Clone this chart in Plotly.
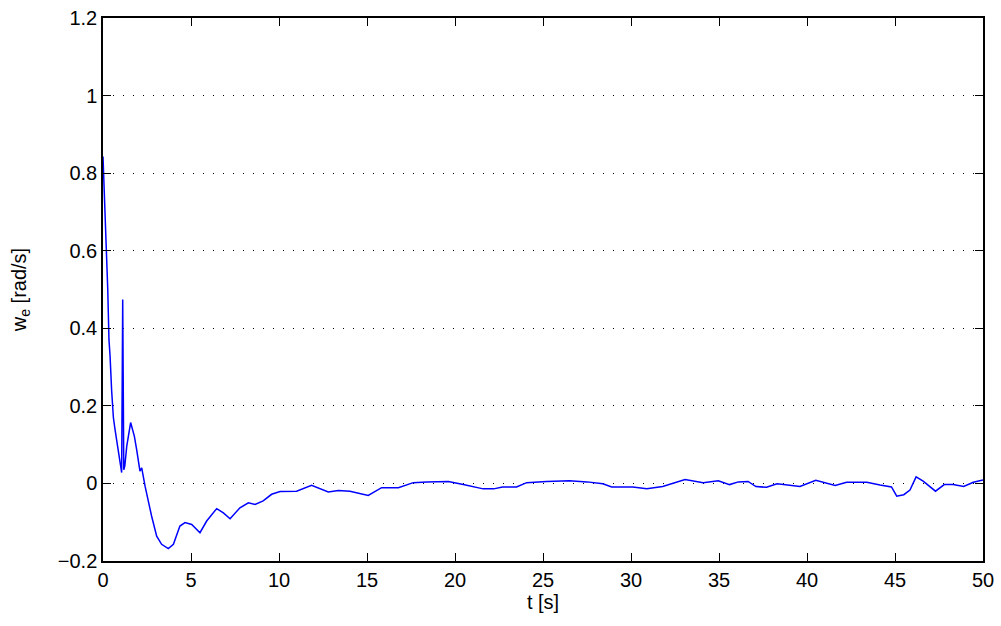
import plotly.graph_objects as go

t = [0.0, 0.11, 0.21, 0.27, 0.34, 0.40, 0.49, 0.59, 0.68, 0.87, 1.06, 1.12, 1.18, 1.24,
     1.35, 1.57, 1.78, 1.91, 2.10, 2.20, 2.39, 2.76, 3.05, 3.33, 3.71, 4.00, 4.37, 4.66,
     5.04, 5.51, 5.89, 6.46, 6.84, 7.22, 7.78, 8.26, 8.64, 9.10, 9.58, 10.06, 11.0,
     11.85, 12.8, 13.37, 14.03, 15.07, 15.83, 16.78, 17.63, 18.39, 19.62, 20.47, 21.6,
     22.2, 22.7, 23.5, 24.07, 25.2, 26.5, 27.5, 28.4, 28.9, 29.7, 30.1, 30.9, 31.8,
     33.07, 34.1, 34.96, 35.6, 36.1, 36.65, 37.1, 37.7, 38.3, 38.8, 39.6, 40.5, 41.6,
     42.25, 43.4, 44.15, 44.8, 45.1, 45.5, 45.85, 46.2, 46.6, 47.3, 47.8, 48.3, 48.9,
     49.45, 50.0]
w_e = [0.843, 0.715, 0.60, 0.50, 0.37, 0.33, 0.24, 0.17, 0.14, 0.08, 0.028, 0.474, 0.035,
       0.045, 0.096, 0.157, 0.122, 0.088, 0.032, 0.04, -0.007, -0.084, -0.136, -0.157,
       -0.168, -0.157, -0.11, -0.101, -0.106, -0.127, -0.097, -0.065, -0.076, -0.091,
       -0.063, -0.05, -0.054, -0.045, -0.028, -0.021, -0.02, -0.005, -0.022, -0.018,
       -0.02, -0.031, -0.011, -0.011, 0.002, 0.004, 0.005, -0.003, -0.014, -0.014,
       -0.009, -0.009, 0.002, 0.005, 0.007, 0.004, -0.001, -0.009, -0.008, -0.009,
       -0.014, -0.008, 0.010, 0.002, 0.007, -0.003, 0.004, 0.005, -0.008, -0.01,
       -0.001, -0.003, -0.008, 0.008, -0.005, 0.003, 0.003, -0.004, -0.009, -0.033,
       -0.029, -0.017, 0.017, 0.006, -0.02, -0.003, -0.003, -0.008, 0.003, 0.009]

x_ticks = [0, 5, 10, 15, 20, 25, 30, 35, 40, 45, 50]
y_ticks = [-0.2, 0, 0.2, 0.4, 0.6, 0.8, 1.0, 1.2]
y_tick_labels = ["\u22120.2", "0", "0.2", "0.4", "0.6", "0.8", "1", "1.2"]

fig = go.Figure()
fig.add_trace(go.Scatter(x=t, y=w_e, mode="lines",
                         line=dict(color="#0000ff", width=1.5), showlegend=False))

font = dict(family="Liberation Sans, Arial, sans-serif", size=20, color="black")

fig.update_layout(
    width=1001, height=626,
    margin=dict(l=103, r=18, t=18, b=65, autoexpand=False),
    paper_bgcolor="white", plot_bgcolor="white",
    font=font,
)
fig.update_xaxes(
    range=[0, 50], tickvals=x_ticks, ticks="inside", ticklen=8, tickcolor="black",
    showline=True, linecolor="black", linewidth=1.5, mirror="ticks",
    showgrid=False, zeroline=False, automargin=False,
    title=dict(text="t [s]", standoff=4, font=font), tickfont=font,
)
fig.update_yaxes(
    range=[-0.2, 1.2], tickvals=y_ticks, ticktext=y_tick_labels, ticks="inside",
    ticklen=8, tickcolor="black",
    showline=True, linecolor="black", linewidth=1.5, mirror="ticks",
    showgrid=True, gridcolor="black", gridwidth=1, griddash="1px,9px",
    zeroline=False, automargin=False,
    title=dict(text="w<sub>e</sub> [rad/s]", standoff=26, font=font), tickfont=font,
)

fig.write_html("out.html",
               config={"displayModeBar": False},
               post_script="document.body.style.margin='0';document.body.style.overflow='hidden';")
